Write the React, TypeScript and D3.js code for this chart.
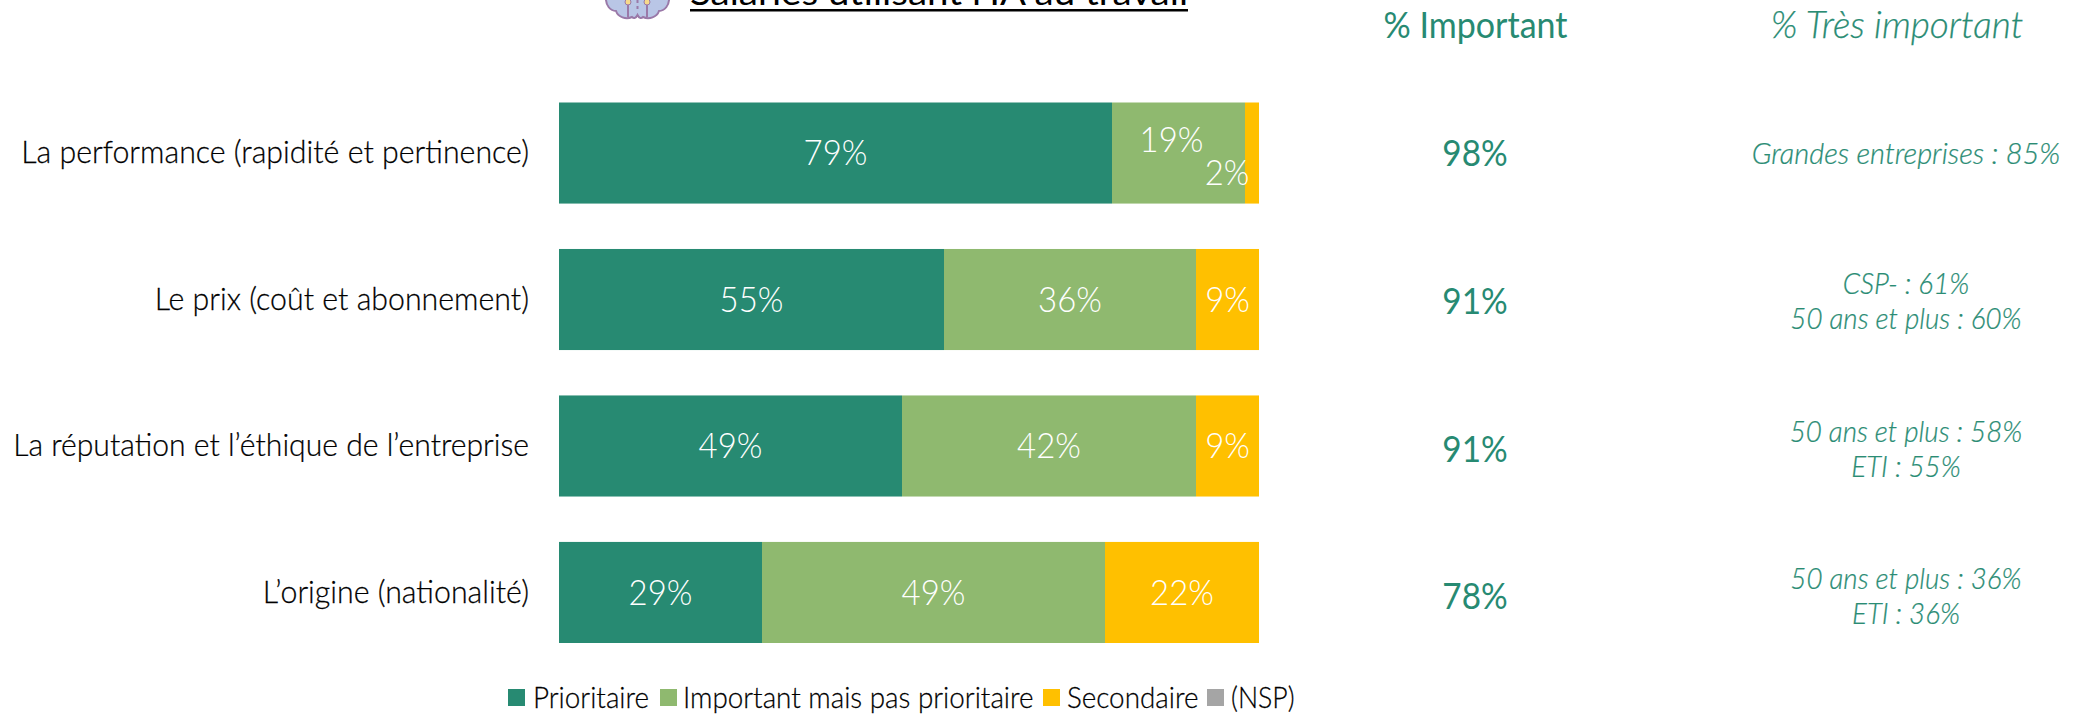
import React from "react";
import * as d3 from "d3";

const categories = [
  "La performance (rapidité et pertinence)",
  "Le prix (coût et abonnement)",
  "La réputation et l’éthique de l’entreprise",
  "L’origine (nationalité)",
];
const seriesNames = ["Prioritaire", "Important mais pas prioritaire", "Secondaire", "(NSP)"];
const seriesColors = ["#278A72", "#8FB96F", "#FFC000", "#A5A5A5"];
const prioritaire = [79, 55, 49, 29];
const importantMais = [19, 36, 42, 49];
const secondaire = [2, 9, 9, 22];
const nsp = [0, 0, 0, 0];
const totalImportant = ["98%", "91%", "91%", "78%"];
const tresImportant = [
  ["Grandes entreprises : 85%"],
  ["CSP- : 61%", "50 ans et plus : 60%"],
  ["50 ans et plus : 58%", "ETI : 55%"],
  ["50 ans et plus : 36%", "ETI : 36%"],
];
const titleText = "Salariés utilisant l’IA au travail";
const headerImportant = "% Important";
const headerTres = "% Très important";

const W = 2087, H = 714;
const FONT = "Lato, Carlito, sans-serif";
const GREEN = "#278A72";
const NOTE = "#2A8C74";

const x = d3.scaleLinear().domain([0, 100]).range([559, 1259]);
const y = d3.scaleBand<number>().domain([0, 1, 2, 3]).range([102.5, 643]).paddingInner(0.31);
const rows = categories.map((c, i) => ({ c, Prioritaire: prioritaire[i], Imp: importantMais[i], Sec: secondaire[i], Nsp: nsp[i] }));
const stack = d3.stack<any>().keys(["Prioritaire", "Imp", "Sec", "Nsp"])(rows);

const legendSwatchX = [508, 660, 1043, 1207];
const legendTextX = [533, 683, 1067, 1231];

// Text squeezed horizontally, to approach the narrow face of the original
function T({ x, y, sx = 1, children, ...rest }: any) {
  return (
    <text transform={`translate(${x},${y}) scale(${sx},1)`} dy="0.35em" {...rest}>{children}</text>
  );
}

export default function App() {
  const bw = y.bandwidth();
  return (
    <svg width={W} height={H} style={{ position: "absolute", left: 0, top: 0, background: "#fff" }} fontFamily={FONT}>
      <g stroke="#9A79A8" strokeWidth={2} fill="#B9C6E6">
        <path d="M606,-4 C605,6 611,11 616,11 C618,17 626,20 632,17 C634,19 636,18 637.5,15 C639,18 641,19 643,17 C649,20 657,17 659,11 C664,11 670,6 669,-4 Z" />
        <path d="M628,4 V17 M647,4 V17" fill="none" />
        <path d="M637.5,0 V12" fill="none" strokeDasharray="3 3" />
      </g>
      <circle cx={628} cy={2} r={3} fill="#F6D98A" stroke="#9A79A8" />
      <circle cx={647} cy={2} r={3} fill="#F6D98A" stroke="#9A79A8" />
      <text x={690} y={5} fontSize={35} fill="#000" textLength={498} lengthAdjust="spacingAndGlyphs">{titleText}</text>
      <rect x={690} y={9} width={498} height={2.5} fill="#000" />

      <T x={1475.5} y={25} sx={0.945} fontSize={36} fill={GREEN} textAnchor="middle">{headerImportant}</T>
      <T x={1897} y={25} fontSize={37} fill={NOTE} stroke={NOTE} strokeWidth={0.25} textAnchor="middle" fontStyle="italic" fontWeight={300}>{headerTres}</T>

      {stack.map((s, si) => (
        <g key={si} fill={seriesColors[si]}>
          {s.map((d, i) => (
            <rect key={i} x={x(d[0])} y={y(i)} width={x(d[1]) - x(d[0])} height={bw} />
          ))}
        </g>
      ))}
      {stack.map((s, si) =>
        s.map((d, i) => {
          const v = d[1] - d[0];
          if (v === 0) return null;
          let cx = (x(d[0]) + x(d[1])) / 2;
          let cy = y(i)! + bw / 2;
          if (i === 0 && si === 1) { cx -= 7; cy -= 13; }
          if (i === 0 && si === 2) { cx -= 25; cy += 20; }
          return (
            <T key={si + "-" + i} x={cx} y={cy} sx={0.94} fontSize={35} fontWeight={300} fill="#fff" textAnchor="middle">{v}%</T>
          );
        })
      )}

      {categories.map((c, i) => (
        <T key={c} x={529} y={y(i)! + bw / 2 - 1} sx={i === 2 ? 0.942 : 0.948} fontSize={32} fontWeight={300} fill="#000" stroke="#000" strokeWidth={0.25} textAnchor="end">{c}</T>
      ))}
      {totalImportant.map((t, i) => (
        <T key={i} x={1475} y={y(i)! + bw / 2 + i * 1.3} sx={0.9} fontSize={37} fill={GREEN} textAnchor="middle">{t}</T>
      ))}
      {tresImportant.map((lines, i) =>
        lines.map((l, j) => (
          <T key={i + "-" + j} x={1906} y={y(i)! + bw / 2 + i * 1.3 + (j - (lines.length - 1) / 2) * 35} sx={i === 0 ? 0.967 : 0.925} fontSize={30} fontStyle="italic" fontWeight={300} fill={NOTE} stroke={NOTE} strokeWidth={0.25} textAnchor="middle">{l}</T>
        ))
      )}

      {seriesNames.map((n, i) => (
        <g key={n}>
          <rect x={legendSwatchX[i]} y={689} width={17} height={17} fill={seriesColors[i]} />
          <T x={legendTextX[i]} y={698} sx={i === 3 ? 0.92 : 0.96} fontSize={29} fontWeight={300} fill="#000" stroke="#000" strokeWidth={0.25}>{n}</T>
        </g>
      ))}
    </svg>
  );
}
